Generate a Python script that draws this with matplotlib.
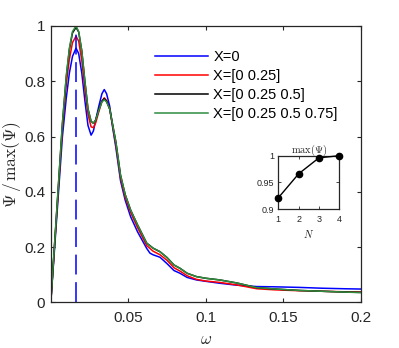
import matplotlib
matplotlib.use("Agg")
import matplotlib.pyplot as plt

plt.rcParams['font.family'] = ['Liberation Sans', 'DejaVu Sans']
plt.rcParams['mathtext.fontset'] = 'cm'

# frequency grid
omega = [0, 0.0075, 0.010, 0.012, 0.014, 0.0163, 0.018, 0.020, 0.022, 0.024, 0.026,
         0.0275, 0.029, 0.031, 0.033, 0.0345, 0.036, 0.038, 0.040, 0.042, 0.045, 0.048,
         0.0515, 0.056, 0.0619, 0.064, 0.066, 0.0705, 0.075, 0.0795, 0.0834, 0.088, 0.094,
         0.100, 0.109, 0.120, 0.133, 0.145, 0.160, 0.175, 0.190, 0.200]

psi_x0 = [0, 0.60, 0.74, 0.83, 0.89, 0.92, 0.90, 0.83, 0.73, 0.64, 0.605,
          0.62, 0.66, 0.71, 0.755, 0.77, 0.755, 0.71, 0.63, 0.56, 0.44, 0.37,
          0.31, 0.255, 0.195, 0.178, 0.172, 0.163, 0.14, 0.115, 0.105, 0.09, 0.081,
          0.076, 0.069, 0.062, 0.057, 0.056, 0.054, 0.051, 0.049, 0.048]

psi_x1 = [0, 0.63, 0.79, 0.88, 0.94, 0.963, 0.945, 0.875, 0.77, 0.68, 0.635,
          0.632, 0.65, 0.69, 0.728, 0.74, 0.73, 0.70, 0.635, 0.57, 0.45, 0.38,
          0.325, 0.27, 0.205, 0.195, 0.185, 0.172, 0.152, 0.125, 0.113, 0.096, 0.083,
          0.077, 0.072, 0.063, 0.049, 0.045, 0.042, 0.040, 0.038, 0.037]

psi_x2 = [0, 0.645, 0.815, 0.915, 0.975, 0.995, 0.978, 0.91, 0.80, 0.70, 0.655,
          0.648, 0.66, 0.697, 0.728, 0.737, 0.728, 0.70, 0.64, 0.58, 0.46, 0.39,
          0.334, 0.28, 0.214, 0.205, 0.196, 0.183, 0.162, 0.135, 0.123, 0.105, 0.093,
          0.087, 0.081, 0.07, 0.053, 0.048, 0.043, 0.040, 0.037, 0.036]

psi_x3 = [0, 0.65, 0.82, 0.92, 0.98, 1.0, 0.98, 0.91, 0.80, 0.70, 0.655,
          0.648, 0.66, 0.695, 0.725, 0.733, 0.725, 0.70, 0.64, 0.58, 0.46, 0.39,
          0.334, 0.28, 0.214, 0.204, 0.196, 0.183, 0.162, 0.135, 0.123, 0.105, 0.093,
          0.087, 0.081, 0.07, 0.053, 0.048, 0.043, 0.040, 0.037, 0.035]

labels = ['X=0', 'X=[0 0.25]', 'X=[0 0.25 0.5]', 'X=[0 0.25 0.5 0.75]']
colors = ['#0000ff', '#ff0000', '#000000', '#2e8b3e']

peak_omega = 0.0163

# inset: max(Psi) vs N
N = [1, 2, 3, 4]
max_psi = [0.921, 0.966, 0.996, 1.0]

axc = '#262626'

fig = plt.figure(figsize=(3.99, 3.48), dpi=100)
ax = fig.add_axes([0.1273, 0.1313, 0.7767, 0.794])

for y, c, lab in zip([psi_x0, psi_x1, psi_x2, psi_x3], colors, labels):
    ax.plot(omega, y, color=c, lw=1.1, label=lab)

ax.plot([peak_omega, peak_omega], [0, 1], color='#0000ff', lw=1.1,
        linestyle=(0, (13, 5)))

ax.set_xlim(0, 0.2)
ax.set_ylim(0, 1)
ax.set_xticks([0.05, 0.1, 0.15, 0.2])
ax.set_xticklabels(['0.05', '0.1', '0.15', '0.2'])
ax.set_yticks([0, 0.2, 0.4, 0.6, 0.8, 1])
ax.set_yticklabels(['0', '0.2', '0.4', '0.6', '0.8', '1'])
ax.tick_params(direction='in', top=True, right=True, length=3, width=0.8,
               colors=axc, labelsize=11)
ax.tick_params(axis='x', pad=6)
ax.tick_params(axis='y', pad=4)
for s in ax.spines.values():
    s.set_color(axc)
    s.set_linewidth(0.9)

ax.set_xlabel(r'$\omega$', fontsize=12, color=axc, labelpad=5)
ax.set_ylabel(r'$\Psi\,/\,\max(\Psi)$', fontsize=12.5, color=axc, labelpad=1)

ax.legend(loc='upper left', bbox_to_anchor=(155 / 399, 0.856),
          bbox_transform=fig.transFigure, frameon=False, fontsize=10.5,
          handlelength=3.6, handletextpad=0.4, labelspacing=0.34,
          borderpad=0, borderaxespad=0)

# inset
ins = fig.add_axes([0.6975, 0.3994, 0.1529, 0.1532])
ins.plot(N, max_psi, color='black', lw=1.0, marker='o', markersize=4.5,
         clip_on=False, zorder=5)
ins.set_xlim(1, 4)
ins.set_ylim(0.9, 1)
ins.set_xticks([1, 2, 3, 4])
ins.set_yticks([0.9, 0.95, 1])
ins.set_yticklabels(['0.9', '0.95', '1'])
ins.tick_params(direction='in', top=True, right=True, length=2, width=0.6,
                colors=axc, labelsize=6.5, pad=3)
ins.tick_params(axis='x', pad=4)
for s in ins.spines.values():
    s.set_color(axc)
    s.set_linewidth(0.9)
ins.set_title(r'$\max(\Psi)$', fontsize=7.5, color=axc, pad=2)
ins.set_xlabel(r'$N$', fontsize=7.5, color=axc, labelpad=3)

fig.savefig('out.png', dpi=100)
